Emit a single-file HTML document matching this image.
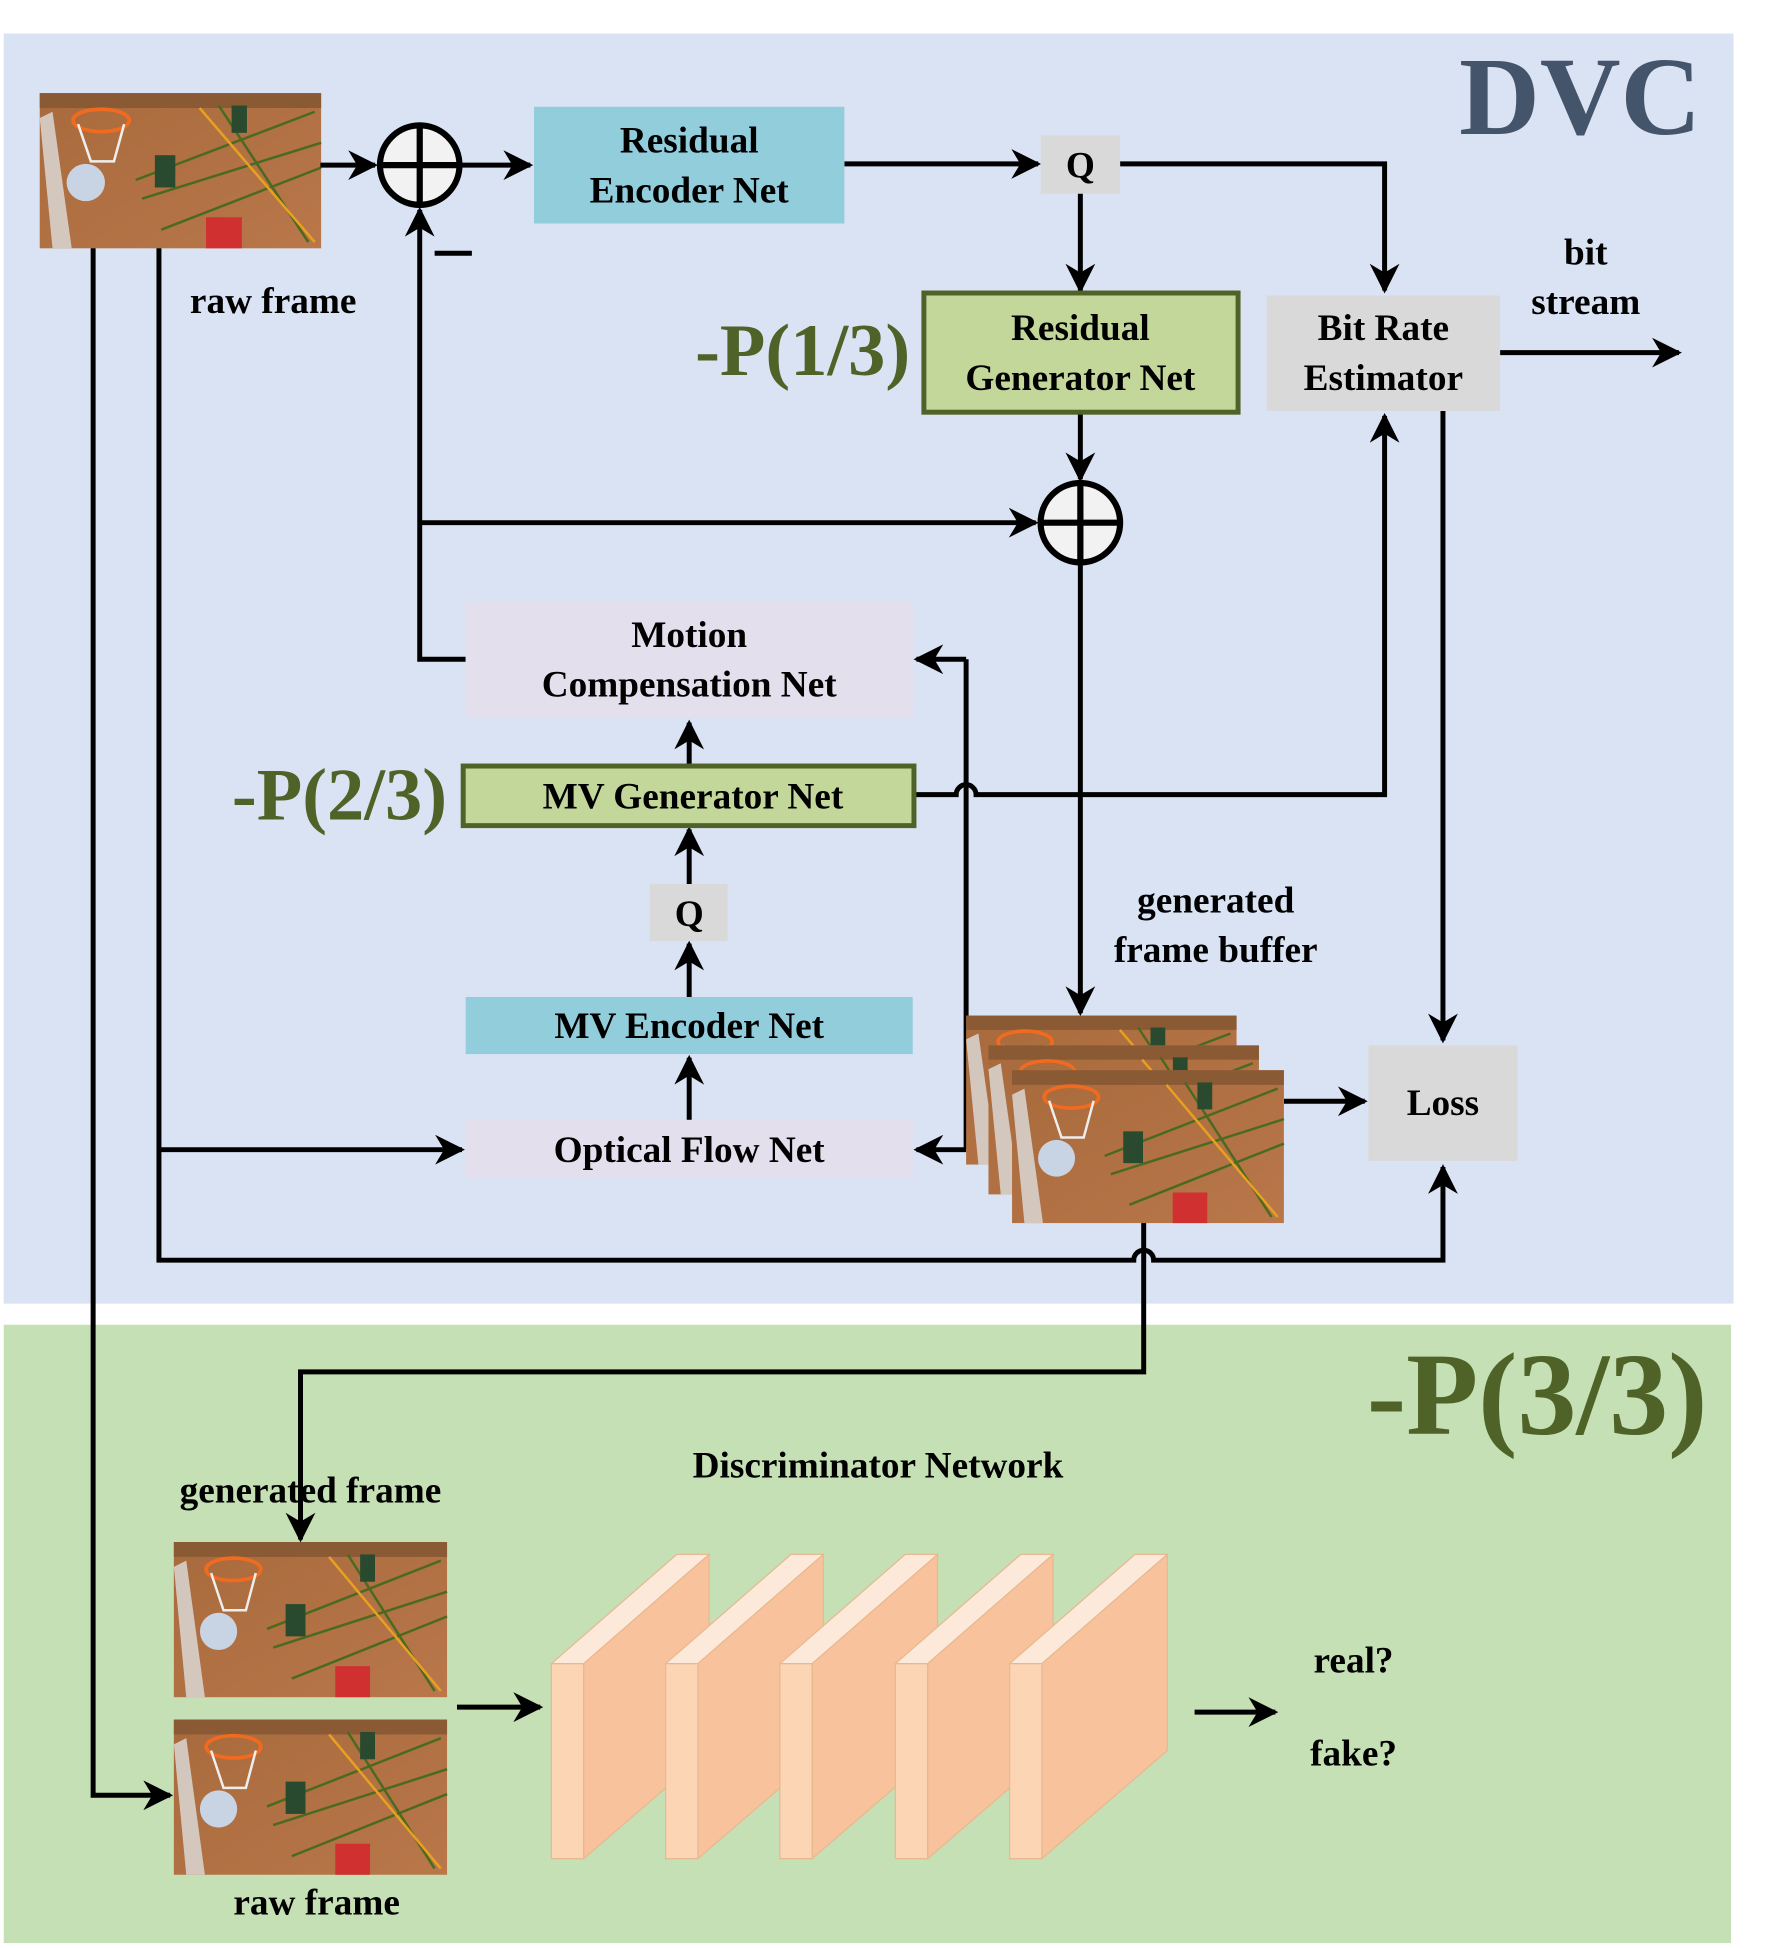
<!DOCTYPE html>
<html><head><meta charset="utf-8"><style>
html,body{margin:0;padding:0;background:#fff}
svg{display:block}
</style></head><body>
<svg width="1777" height="1948" viewBox="0 0 1431 1569" preserveAspectRatio="none" xmlns="http://www.w3.org/2000/svg" font-family="'Liberation Serif', 'Times New Roman', serif" font-weight="bold">
<defs>
<marker id="ar" viewBox="0 0 10 10" refX="9" refY="5" markerWidth="6" markerHeight="6" orient="auto" markerUnits="strokeWidth"><path d="M0,0 L10,5 L0,10 L3,5 z" fill="#000"/></marker>
<linearGradient id="fl" x1="0" y1="0" x2="1" y2="1"><stop offset="0" stop-color="#a86a3c"/><stop offset="1" stop-color="#b9774a"/></linearGradient>
<g id="ph">
<rect width="220" height="125" fill="url(#fl)"/>
<rect width="220" height="12" fill="#8a5a35"/>
<path d="M0,20 L10,125 L25,125 L10,15 z" fill="#ddd" opacity="0.8"/>
<ellipse cx="48" cy="22" rx="22" ry="9" fill="none" stroke="#f06a20" stroke-width="3"/>
<path d="M30,25 L40,55 L58,55 L66,25" fill="none" stroke="#eee" stroke-width="2"/>
<circle cx="36" cy="72" r="15" fill="#c8d4e4"/>
<path d="M75,70 L215,15 M80,85 L220,40 M95,110 L220,60 M140,10 L210,120" stroke="#4a6a20" stroke-width="2" fill="none"/>
<path d="M125,12 L215,120" stroke="#e8a020" stroke-width="2"/>
<rect x="90" y="50" width="16" height="26" fill="#2a4a30"/>
<rect x="150" y="10" width="12" height="22" fill="#2a4a30"/>
<rect x="130" y="100" width="28" height="25" fill="#d03030"/>
</g>
</defs>
<rect x="3" y="27" width="1393" height="1023" fill="#dae3f3"/>
<rect x="3" y="1067" width="1391" height="498" fill="#c5e0b4"/>
<text x="1370" y="108" font-size="90" fill="#44546a" text-anchor="end">DVC</text>
<text x="1375" y="1155" font-size="95" fill="#4f6228" text-anchor="end">-P(3/3)</text>

<use href="#ph" transform="translate(32,75) scale(1.03,1)"/>
<text x="220" y="252" font-size="30" text-anchor="middle">raw frame</text>

<g stroke="#000" stroke-width="4" fill="none">
<line x1="258" y1="133" x2="302" y2="133" marker-end="url(#ar)"/>
<line x1="372" y1="133" x2="427" y2="133" marker-end="url(#ar)"/>
<line x1="680" y1="132" x2="836" y2="132" marker-end="url(#ar)"/>
<polyline points="902,132 1115,132 1115,234" marker-end="url(#ar)"/>
<line x1="870" y1="156" x2="870" y2="234" marker-end="url(#ar)"/>
<line x1="1208" y1="284" x2="1352" y2="284" marker-end="url(#ar)"/>
<line x1="870" y1="332" x2="870" y2="386" marker-end="url(#ar)"/>
<line x1="338" y1="421" x2="834" y2="421" marker-end="url(#ar)"/>
<polyline points="375,531 338,531 338,169" marker-end="url(#ar)"/>
<line x1="870" y1="454" x2="870" y2="816" marker-end="url(#ar)"/>
<line x1="778" y1="531" x2="778" y2="926"/>
<line x1="778" y1="531" x2="738" y2="531" marker-end="url(#ar)"/>
<line x1="778" y1="926" x2="738" y2="926" marker-end="url(#ar)"/>
<path d="M736,640 L770,640 A8,8 0 0 1 786,640 L1115,640 L1115,335" marker-end="url(#ar)"/>
<line x1="555" y1="617" x2="555" y2="582" marker-end="url(#ar)"/>
<line x1="555" y1="712" x2="555" y2="668" marker-end="url(#ar)"/>
<line x1="555" y1="803" x2="555" y2="760" marker-end="url(#ar)"/>
<line x1="555" y1="902" x2="555" y2="852" marker-end="url(#ar)"/>
<line x1="128" y1="926" x2="372" y2="926" marker-end="url(#ar)"/>
<path d="M128,200 L128,1015 L913,1015 A8,8 0 0 1 929,1015 L1162,1015 L1162,940" marker-end="url(#ar)"/>
<polyline points="75,200 75,1446 137,1446" marker-end="url(#ar)"/>
<line x1="1162" y1="331" x2="1162" y2="838" marker-end="url(#ar)"/>
<line x1="1034" y1="887" x2="1099" y2="887" marker-end="url(#ar)"/>
<polyline points="921,985 921,1105 242,1105 242,1240" marker-end="url(#ar)"/>
<line x1="368" y1="1375" x2="435" y2="1375" marker-end="url(#ar)"/>
<line x1="962" y1="1379" x2="1027" y2="1379" marker-end="url(#ar)"/>
<line x1="350" y1="204" x2="380" y2="204"/>
</g>

<g stroke="#000" stroke-width="5" fill="#f2f2f2">
<circle cx="338" cy="133" r="32"/><line x1="306" y1="133" x2="370" y2="133"/><line x1="338" y1="101" x2="338" y2="165"/>
<circle cx="870" cy="421" r="32"/><line x1="838" y1="421" x2="902" y2="421"/><line x1="870" y1="389" x2="870" y2="453"/>
</g>

<rect x="430" y="86" width="250" height="94" fill="#92cddc"/>
<text x="555" y="123" font-size="30" text-anchor="middle">Residual</text>
<text x="555" y="163" font-size="30" text-anchor="middle">Encoder Net</text>
<rect x="838" y="109" width="64" height="47" fill="#d9d9d9"/>
<text x="870" y="143" font-size="30" text-anchor="middle">Q</text>
<rect x="744" y="236" width="253" height="96" fill="#c4d79b" stroke="#4f6228" stroke-width="4"/>
<text x="870" y="274" font-size="30" text-anchor="middle">Residual</text>
<text x="870" y="314" font-size="30" text-anchor="middle">Generator Net</text>
<text x="733" y="302" font-size="60" fill="#4f6228" text-anchor="end">-P(1/3)</text>
<rect x="1020" y="238" width="188" height="93" fill="#d9d9d9"/>
<text x="1114" y="274" font-size="30" text-anchor="middle">Bit Rate</text>
<text x="1114" y="314" font-size="30" text-anchor="middle">Estimator</text>
<text x="1277" y="213" font-size="30" text-anchor="middle">bit</text>
<text x="1277" y="253" font-size="30" text-anchor="middle">stream</text>

<rect x="375" y="485" width="360" height="93" fill="#e4dfec"/>
<text x="555" y="521" font-size="30" text-anchor="middle">Motion</text>
<text x="555" y="561" font-size="30" text-anchor="middle">Compensation Net</text>
<rect x="373" y="617" width="363" height="48" fill="#c4d79b" stroke="#4f6228" stroke-width="4"/>
<text x="558" y="651" font-size="30" text-anchor="middle">MV Generator Net</text>
<text x="360" y="660" font-size="60" fill="#4f6228" text-anchor="end">-P(2/3)</text>
<rect x="523" y="712" width="63" height="46" fill="#d9d9d9"/>
<text x="555" y="746" font-size="30" text-anchor="middle">Q</text>
<rect x="375" y="803" width="360" height="46" fill="#92cddc"/>
<text x="555" y="836" font-size="30" text-anchor="middle">MV Encoder Net</text>
<rect x="375" y="902" width="360" height="46" fill="#e4dfec"/>
<text x="555" y="936" font-size="30" text-anchor="middle">Optical Flow Net</text>

<text x="979" y="735" font-size="30" text-anchor="middle">generated</text>
<text x="979" y="775" font-size="30" text-anchor="middle">frame buffer</text>
<use href="#ph" transform="translate(778,818) scale(0.99,0.96)"/>
<use href="#ph" transform="translate(796,842) scale(0.99,0.96)"/>
<use href="#ph" transform="translate(815,862) scale(0.995,0.985)"/>
<rect x="1102" y="842" width="120" height="93" fill="#d9d9d9"/>
<text x="1162" y="898" font-size="30" text-anchor="middle">Loss</text>

<text x="707" y="1190" font-size="30" text-anchor="middle">Discriminator Network</text>
<text x="250" y="1210" font-size="30" text-anchor="middle">generated frame</text>
<use href="#ph" transform="translate(140,1242)"/>
<use href="#ph" transform="translate(140,1385)"/>
<text x="255" y="1542" font-size="30" text-anchor="middle">raw frame</text>

<g id="blk">
<polygon points="444,1340 545,1252 571,1252 470,1340" fill="#fde9d9" stroke="#e8b890" stroke-width="1"/>
<polygon points="470,1340 571,1252 571,1410 470,1497" fill="#f8c39c" stroke="#e8b890" stroke-width="1"/>
<rect x="444" y="1340" width="26" height="157" fill="#fcd5b5" stroke="#e8b890" stroke-width="1"/>
</g>
<use href="#blk" transform="translate(92,0)"/>
<use href="#blk" transform="translate(184,0)"/>
<use href="#blk" transform="translate(277,0)"/>
<use href="#blk" transform="translate(369,0)"/>
<text x="1090" y="1347" font-size="30" text-anchor="middle">real?</text>
<text x="1090" y="1422" font-size="30" text-anchor="middle">fake?</text>
</svg>
</body></html>
